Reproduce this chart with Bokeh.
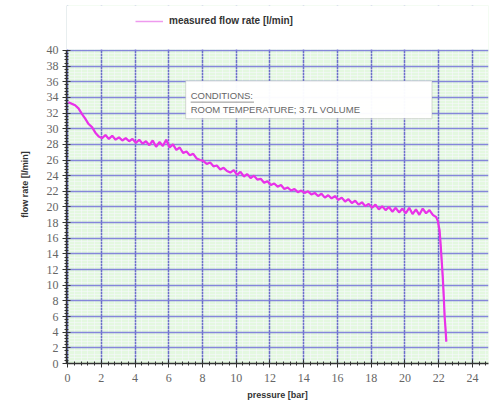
from bokeh.plotting import figure
from bokeh.models import (Range1d, SingleIntervalTicker, BoxAnnotation, Label,
                          Legend, LegendItem)
from bokeh.embed import file_html
from bokeh.resources import INLINE

# ---- data ----
pressure = [0.05, 0.25, 0.45, 0.65, 0.85, 1.05, 1.25, 1.45, 1.65, 1.85,
            2.05, 2.25, 2.45, 2.65, 2.85, 3.05, 3.25, 3.45, 3.65, 3.85,
            4.05, 4.25, 4.45, 4.65, 4.85, 5.05, 5.25, 5.45, 5.65, 5.85,
            6.05, 6.25, 6.45, 6.65, 6.85, 7.05, 7.25, 7.45, 7.65, 7.85,
            8.05, 8.25, 8.45, 8.65, 8.85, 9.05, 9.25, 9.45, 9.65, 9.85,
            10.05, 10.25, 10.45, 10.65, 10.85, 11.05, 11.25, 11.45, 11.65, 11.85,
            12.05, 12.25, 12.45, 12.65, 12.85, 13.05, 13.25, 13.45, 13.65, 13.85,
            14.05, 14.25, 14.45, 14.65, 14.85, 15.05, 15.25, 15.45, 15.65, 15.85,
            16.05, 16.25, 16.45, 16.65, 16.85, 17.05, 17.25, 17.45, 17.65, 17.85,
            18.05, 18.25, 18.45, 18.65, 18.85, 19.05, 19.25, 19.45, 19.65, 19.85,
            20.05, 20.25, 20.45, 20.65, 20.85, 21.05, 21.25, 21.45, 21.65, 21.85,
            21.95, 22.05, 22.12, 22.18, 22.24, 22.30, 22.35, 22.40, 22.45]
flow = [33.4, 33.2, 33.0, 32.6, 31.9, 31.3, 30.6, 30.2, 29.5, 29.0,
        28.8, 29.2, 28.7, 29.1, 28.6, 28.9, 28.5, 28.8, 28.4, 28.7,
        28.2, 28.6, 28.1, 28.4, 27.9, 28.5, 27.7, 28.3, 27.8, 28.6,
        27.6, 28.0, 27.3, 27.6, 26.9, 27.1, 26.6, 26.8, 26.2, 26.0,
        25.9, 25.5, 25.7, 25.2, 25.3, 24.8, 25.0, 24.6, 24.4, 24.7,
        24.1, 24.5, 23.9, 24.2, 23.7, 24.0, 23.5, 23.6, 23.1, 23.3,
        22.8, 23.0, 22.6, 22.8, 22.3, 22.5, 22.1, 22.3, 21.9, 22.1,
        21.8, 22.0, 21.6, 21.8, 21.4, 21.7, 21.2, 21.5, 21.1, 21.4,
        20.9, 21.2, 20.7, 21.0, 20.5, 20.8, 20.3, 20.6, 20.1, 20.4,
        19.9, 20.3, 19.7, 20.1, 19.6, 20.0, 19.4, 19.9, 19.3, 19.8,
        19.2, 19.9, 19.1, 19.7, 19.0, 19.8, 19.2, 19.6, 19.0, 18.7,
        18.2, 17.0, 15.0, 13.0, 11.0, 8.5, 6.0, 4.5, 2.8]

series_name = "measured flow rate [l/min]"
x_label = "pressure [bar]"
y_label = "flow rate [l/min]"
note_title = "CONDITIONS:"
note_text = "ROOM TEMPERATURE; 3.7L VOLUME"
y_max = 40

p = figure(width=489, height=402, output_backend="svg", toolbar_location=None,
           x_range=Range1d(-0.06, 24.95), y_range=Range1d(0, 45.75),
           min_border_left=66, min_border_right=1, min_border_top=5,
           min_border_bottom=39)
p.outline_line_color = None
p.background_fill_color = "#e4f8e0"
p.border_fill_color = "white"

p.xaxis.ticker = SingleIntervalTicker(interval=2, num_minor_ticks=5)
p.yaxis.ticker = SingleIntervalTicker(interval=2, num_minor_ticks=5)
p.yaxis.bounds = (0, y_max)

p.xgrid.grid_line_color = "#5656c6"
p.xgrid.grid_line_alpha = 0.85
p.xgrid.grid_line_width = 1.5
p.ygrid.grid_line_color = "#6a6ad4"
p.ygrid.grid_line_alpha = 0.8
p.ygrid.grid_line_width = 1.4
for g in (p.xgrid, p.ygrid):
    g.minor_grid_line_color = "#f8f8ff"
    g.minor_grid_line_alpha = 0.55
    g.minor_grid_line_width = 1.0

for ax in (p.xaxis, p.yaxis):
    ax.axis_line_color = "#333333"
    ax.axis_line_width = 1.5
    ax.major_tick_line_color = "#333333"
    ax.minor_tick_line_color = "#333333"
    ax.major_tick_in = 4
    ax.major_tick_out = 4
    ax.minor_tick_in = 2
    ax.minor_tick_out = 2
    ax.major_label_text_font = "Liberation Sans Narrow"
    ax.major_label_text_font_size = "12px"
    ax.major_label_text_color = "#666666"
    ax.axis_label_text_font = "Liberation Sans"
    ax.axis_label_text_font_size = "9px"
    ax.axis_label_text_font_style = "bold"
    ax.axis_label_text_color = "#333333"

p.xaxis.axis_label = x_label
p.yaxis.axis_label = y_label
p.xaxis.major_label_standoff = 6
p.xaxis.axis_label_standoff = 5
p.yaxis.major_label_standoff = 4
p.yaxis.axis_label_standoff = 14

# pale copy underneath the curve, used only for the legend sample
legend_sample = p.line(pressure, flow, line_color="#ee9aee", line_width=1.5)
p.line(pressure, flow, line_color="#e82ce8", line_width=2.2, line_alpha=0.95)

# white cover above the top of the value axis (legend area)
p.add_layout(BoxAnnotation(bottom=y_max + 0.12, fill_color="white", fill_alpha=1.0,
                           line_color=None))

# annotation box
box = BoxAnnotation(left=7.0, right=21.6, bottom=31.3, top=36.1,
                    fill_color="white", fill_alpha=0.97,
                    line_color="#9a9a9a", line_width=1.2)
p.add_layout(box)
p.add_layout(Label(x=7.3, y=33.6, text=note_title, text_font="Liberation Sans",
                   text_font_size="9.5px", text_color="#666666"))
ul = p.line([7.3, 11.05], [33.4, 33.4], line_color="#777777", line_width=0.8)
ul.level = "overlay"
p.add_layout(Label(x=7.3, y=31.75, text=note_text, text_font="Liberation Sans",
                   text_font_size="9.5px", text_color="#666666"))

leg = Legend(items=[LegendItem(label=series_name, renderers=[legend_sample])],
             location=(69, 337), orientation="horizontal",
             background_fill_alpha=0, border_line_color=None,
             label_text_font="Liberation Sans", label_text_font_size="10px",
             label_text_font_style="bold", label_text_color="#333333",
             glyph_width=28, glyph_height=10, padding=0, margin=0,
             label_standoff=6)
p.add_layout(leg, "center")

open("out.html", "w").write(file_html(p, INLINE))
